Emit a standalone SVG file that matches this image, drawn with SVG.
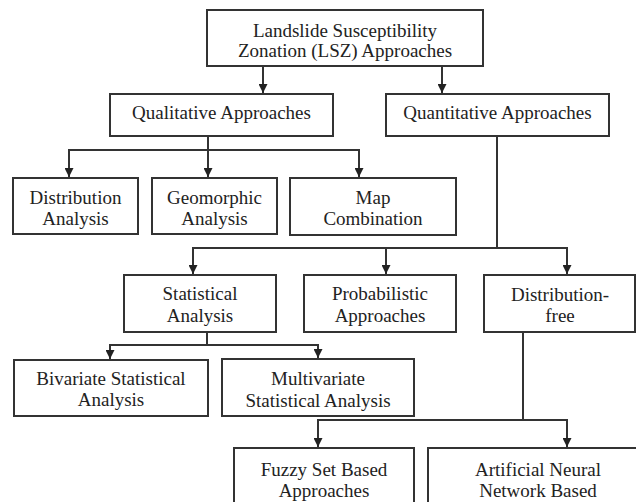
<svg xmlns="http://www.w3.org/2000/svg" width="636" height="502" viewBox="0 0 636 502">
<defs>
<marker id="ah" viewBox="0 0 10 10" refX="10" refY="5" markerWidth="10" markerHeight="9" markerUnits="userSpaceOnUse" orient="auto">
<path d="M0,0 L10,5 L0,10 z" fill="#222"/>
</marker>
<style>
.box{fill:#fff;stroke:#333;stroke-width:2}
.t{font-family:"Liberation Serif","Times New Roman",serif;font-size:19px;fill:#222;text-anchor:middle}
.c{fill:none;stroke:#333;stroke-width:2}
.a{fill:none;stroke:#333;stroke-width:2;marker-end:url(#ah)}
</style>
</defs>
<rect width="636" height="502" fill="#fff"/>
<g id="connectors">
<line class="a" x1="263" y1="66" x2="263" y2="93"/>
<line class="a" x1="442" y1="66" x2="442" y2="93"/>
<line class="c" x1="208" y1="136" x2="208" y2="150"/>
<line class="c" x1="68" y1="150" x2="360" y2="150"/>
<line class="a" x1="69" y1="150" x2="69" y2="177"/>
<line class="a" x1="208" y1="150" x2="208" y2="177"/>
<line class="a" x1="359" y1="150" x2="359" y2="177"/>
<line class="c" x1="497" y1="136" x2="497" y2="248"/>
<line class="c" x1="192" y1="248" x2="568" y2="248"/>
<line class="a" x1="193" y1="248" x2="193" y2="274"/>
<line class="a" x1="386" y1="248" x2="386" y2="274"/>
<line class="a" x1="567" y1="248" x2="567" y2="274"/>
<line class="c" x1="207" y1="332" x2="207" y2="345"/>
<line class="c" x1="109" y1="345" x2="319" y2="345"/>
<line class="a" x1="110" y1="345" x2="110" y2="359"/>
<line class="a" x1="318" y1="345" x2="318" y2="358"/>
<line class="c" x1="523" y1="332" x2="523" y2="420"/>
<line class="c" x1="317" y1="420" x2="568" y2="420"/>
<line class="a" x1="318" y1="420" x2="318" y2="447"/>
<line class="a" x1="567" y1="420" x2="567" y2="447"/>
</g>
<g id="n-lsz">
<rect class="box" x="207" y="10" width="276" height="56"/>
<text class="t" x="345" y="37">Landslide Susceptibility</text>
<text class="t" x="345" y="57">Zonation (LSZ) Approaches</text>
</g>
<g id="n-qual">
<rect class="box" x="110" y="94" width="223" height="42"/>
<text class="t" x="221.5" y="119">Qualitative Approaches</text>
</g>
<g id="n-quant">
<rect class="box" x="386" y="94" width="223" height="42"/>
<text class="t" x="497.5" y="119">Quantitative Approaches</text>
</g>
<g id="n-distan">
<rect class="box" x="13" y="178" width="125" height="56"/>
<text class="t" x="75.5" y="204">Distribution</text>
<text class="t" x="75.5" y="225">Analysis</text>
</g>
<g id="n-geo">
<rect class="box" x="152" y="178" width="125" height="56"/>
<text class="t" x="214.5" y="204">Geomorphic</text>
<text class="t" x="214.5" y="225">Analysis</text>
</g>
<g id="n-map">
<rect class="box" x="290" y="178" width="166" height="57"/>
<text class="t" x="373" y="204">Map</text>
<text class="t" x="373" y="225">Combination</text>
</g>
<g id="n-stat">
<rect class="box" x="124" y="275" width="152" height="57"/>
<text class="t" x="200" y="300">Statistical</text>
<text class="t" x="200" y="322">Analysis</text>
</g>
<g id="n-prob">
<rect class="box" x="304" y="275" width="152" height="57"/>
<text class="t" x="380" y="300">Probabilistic</text>
<text class="t" x="380" y="322">Approaches</text>
</g>
<g id="n-dfree">
<rect class="box" x="484" y="275" width="151" height="57"/>
<text class="t" x="560" y="301">Distribution-</text>
<text class="t" x="560" y="322">free</text>
</g>
<g id="n-biv">
<rect class="box" x="14" y="360" width="194" height="56"/>
<text class="t" x="111" y="385">Bivariate Statistical</text>
<text class="t" x="111" y="406">Analysis</text>
</g>
<g id="n-multi">
<rect class="box" x="222" y="359" width="192" height="57"/>
<text class="t" x="318" y="385">Multivariate</text>
<text class="t" x="318" y="407">Statistical Analysis</text>
</g>
<g id="n-fuzzy">
<rect class="box" x="234" y="448" width="180" height="70"/>
<text class="t" x="324" y="476">Fuzzy Set Based</text>
<text class="t" x="324" y="497">Approaches</text>
</g>
<g id="n-ann">
<rect class="box" x="428" y="448" width="220" height="70"/>
<text class="t" x="538" y="476">Artificial Neural</text>
<text class="t" x="538" y="497">Network Based</text>
</g>
</svg>
